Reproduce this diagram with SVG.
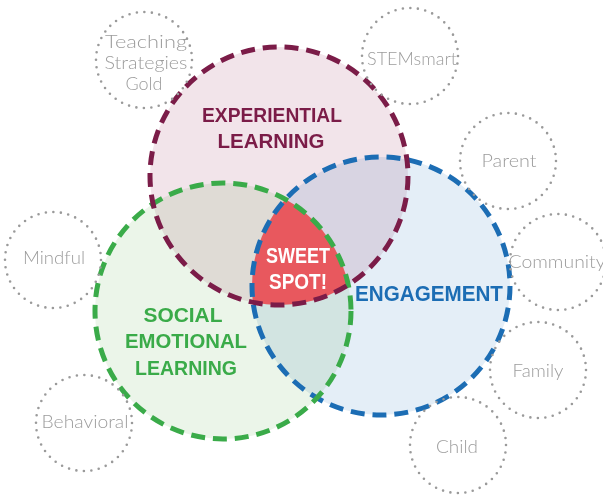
<svg xmlns="http://www.w3.org/2000/svg" width="603" height="498" viewBox="0 0 603 498">
<style>
.fill{mix-blend-mode:multiply;stroke:none}
.ring{fill:none;stroke-width:5;stroke-dasharray:14 7.9}
.dot{fill:none;stroke:#9a9a9a;stroke-width:2.6;stroke-linecap:round;stroke-dasharray:0 7.54}
.lbl{font-family:Lato,"Liberation Sans",sans-serif;font-weight:300;font-size:17px;fill:#9c9c9c;text-anchor:middle}
.big{font-family:"Liberation Sans",Arial,sans-serif;font-weight:bold;font-size:21px;text-anchor:middle}
</style>
<defs>
<clipPath id="clipGreen"><circle cx="223" cy="311" r="128"/></clipPath>
<clipPath id="clipBlue"><circle cx="381" cy="286" r="129"/></clipPath>
</defs>
<rect width="603" height="498" fill="#ffffff"/>
<g id="circle-fills" style="isolation:isolate">
<circle class="fill" cx="279" cy="176" r="129" fill="#f2e4ea"/>
<circle class="fill" cx="223" cy="311" r="128" fill="#ebf5e9"/>
<circle class="fill" cx="381" cy="286" r="129" fill="#e4eef7"/>
</g>
<g id="sweet-spot-shape" clip-path="url(#clipBlue)">
<circle cx="279" cy="176" r="129" fill="#e8585e" clip-path="url(#clipGreen)"/>
</g>
<g id="engagement">
<circle class="ring" cx="381" cy="286" r="129" stroke="#1c6db4"/>
</g>
<g id="social-emotional-learning">
<circle class="ring" cx="223" cy="311" r="128" stroke="#3aab49"/>
<text class="big" fill="#3aab49" x="183" y="322" textLength="79" lengthAdjust="spacingAndGlyphs">SOCIAL</text>
<text class="big" fill="#3aab49" x="186" y="348" textLength="122" lengthAdjust="spacingAndGlyphs">EMOTIONAL</text>
<text class="big" fill="#3aab49" x="186" y="375" textLength="102" lengthAdjust="spacingAndGlyphs">LEARNING</text>
</g>
<g id="experiential-learning">
<circle class="ring" cx="279" cy="176" r="129" stroke="#7b1c48"/>
<text class="big" fill="#7b1c48" x="272" y="122" textLength="140" lengthAdjust="spacingAndGlyphs">EXPERIENTIAL</text>
<text class="big" fill="#7b1c48" x="271" y="148" textLength="107" lengthAdjust="spacingAndGlyphs">LEARNING</text>
</g>
<g id="engagement-label">
<text class="big" fill="#1c6db4" style="font-size:22px" x="429" y="301" textLength="148" lengthAdjust="spacingAndGlyphs">ENGAGEMENT</text>
</g>
<g id="sweet-spot">
<text class="big" fill="#ffffff" style="font-size:22px" x="298" y="263" textLength="64" lengthAdjust="spacingAndGlyphs">SWEET</text>
<text class="big" fill="#ffffff" style="font-size:22px" x="298" y="289" textLength="58" lengthAdjust="spacingAndGlyphs">SPOT!</text>
</g>
<g id="teaching-strategies-gold">
<circle class="dot" cx="144" cy="60" r="48"/>
<text class="lbl" x="146" y="48" textLength="82" lengthAdjust="spacingAndGlyphs">Teaching</text>
<text class="lbl" x="146" y="69" textLength="83" lengthAdjust="spacingAndGlyphs">Strategies</text>
<text class="lbl" x="144" y="90" textLength="37" lengthAdjust="spacingAndGlyphs">Gold</text>
</g>
<g id="stemsmart">
<circle class="dot" cx="410" cy="56" r="48"/>
<text class="lbl" x="412" y="65" textLength="90" lengthAdjust="spacingAndGlyphs">STEMsmart</text>
</g>
<g id="parent">
<circle class="dot" cx="508" cy="161" r="48"/>
<text class="lbl" x="509" y="167" textLength="55" lengthAdjust="spacingAndGlyphs">Parent</text>
</g>
<g id="mindful">
<circle class="dot" cx="53" cy="260" r="48"/>
<text class="lbl" x="54" y="264" textLength="62" lengthAdjust="spacingAndGlyphs">Mindful</text>
</g>
<g id="community">
<circle class="dot" cx="558" cy="262" r="48"/>
<text class="lbl" x="557" y="268" textLength="97" lengthAdjust="spacingAndGlyphs">Community</text>
</g>
<g id="family">
<circle class="dot" cx="538" cy="370" r="48"/>
<text class="lbl" x="538" y="377" textLength="51" lengthAdjust="spacingAndGlyphs">Family</text>
</g>
<g id="child">
<circle class="dot" cx="458" cy="445" r="48"/>
<text class="lbl" x="457" y="453" textLength="42" lengthAdjust="spacingAndGlyphs">Child</text>
</g>
<g id="behavioral">
<circle class="dot" cx="84" cy="423" r="48"/>
<text class="lbl" x="85" y="428" textLength="87" lengthAdjust="spacingAndGlyphs">Behavioral</text>
</g>
<g id="connectors"></g>
</svg>
